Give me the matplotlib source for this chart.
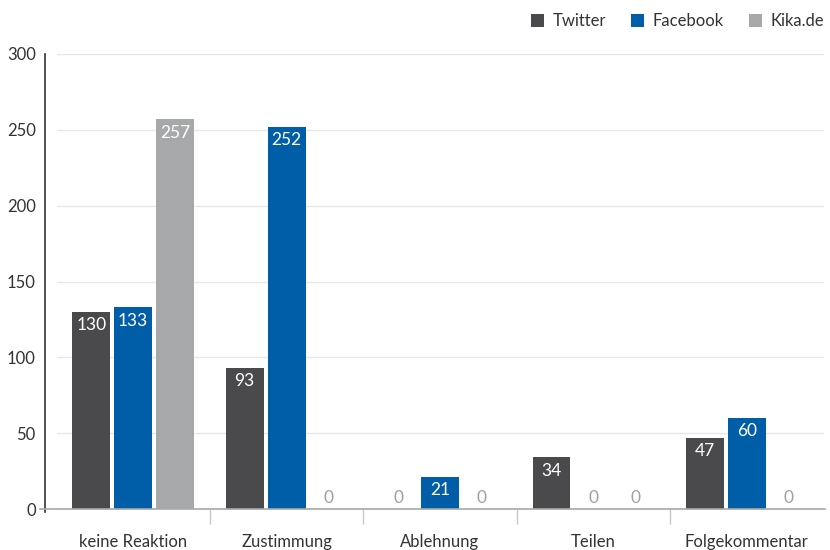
import matplotlib
matplotlib.use("Agg")
import matplotlib.pyplot as plt
from matplotlib.patches import Patch
import numpy as np

plt.rcParams['font.family'] = ['Lato', 'DejaVu Sans']

categories = ["keine Reaktion", "Zustimmung", "Ablehnung", "Teilen", "Folgekommentar"]
series_names = ["Twitter", "Facebook", "Kika.de"]
twitter = [130, 93, 0, 34, 47]
facebook = [133, 252, 21, 0, 60]
kika = [257, 0, 0, 0, 0]
y_ticks = [0, 50, 100, 150, 200, 250, 300]

colors = ["#4a4a4c", "#005ea8", "#a7a8aa"]
fig = plt.figure(figsize=(8.3, 5.5), dpi=100)
ax = fig.add_axes([56.5 / 830, 41 / 550, 767 / 830, 455 / 550])

x = np.arange(len(categories))
width = 0.247
offsets = [-0.273, 0.0, 0.273]
for vals, off, col in zip([twitter, facebook, kika], offsets, colors):
    ax.bar(x + off, vals, width, color=col, zorder=3)
    for xi, v in zip(x + off, vals):
        if v > 0:
            ax.text(xi, v - 3.5, str(v), ha='center', va='top', color='white',
                    fontsize=12.5, zorder=4)
        else:
            ax.text(xi, 2, str(v), ha='center', va='bottom', color='#a0a0a0',
                    fontsize=12.5, zorder=4)

ax.set_xlim(-0.5, len(categories) - 0.5)
ax.set_ylim(0, 300)
ax.set_yticks(y_ticks)
ax.yaxis.grid(True, color='#e6e6e6', linewidth=0.9, zorder=0)
ax.set_axisbelow(True)
ax.tick_params(axis='y', length=0, labelsize=12, labelcolor='#333333', pad=7)

ax.set_xticks(x)
ax.set_xticklabels(categories)
ax.tick_params(axis='x', which='major', length=0, labelsize=12, labelcolor='#333333', pad=18)
ax.set_xticks(np.arange(0.5, len(categories) - 0.5, 1), minor=True)
ax.tick_params(axis='x', which='minor', length=11, color='#c8c8c8', width=1)

for s in ['top', 'right', 'bottom']:
    ax.spines[s].set_visible(False)
ax.spines['left'].set_position(('outward', 8))
ax.spines['left'].set_color('#333333')
ax.spines['left'].set_linewidth(1.2)
ax.spines['left'].set_bounds(-2, 300)
ax.plot([-0.021, 1.002], [0, 0], transform=ax.transAxes, color='#a8a8a8',
        linewidth=1.2, clip_on=False, zorder=5)

handles = [Patch(facecolor=c, edgecolor='none') for c in colors]
fig.legend(handles, series_names, loc='center right',
           bbox_to_anchor=(824 / 830, 1 - 21 / 550),
           ncol=3, frameon=False, fontsize=12, handlelength=0.8, handleheight=0.8,
           handletextpad=0.5, columnspacing=1.5, labelcolor='#333333',
           borderpad=0, borderaxespad=0)

fig.savefig("out.png", dpi=100)
